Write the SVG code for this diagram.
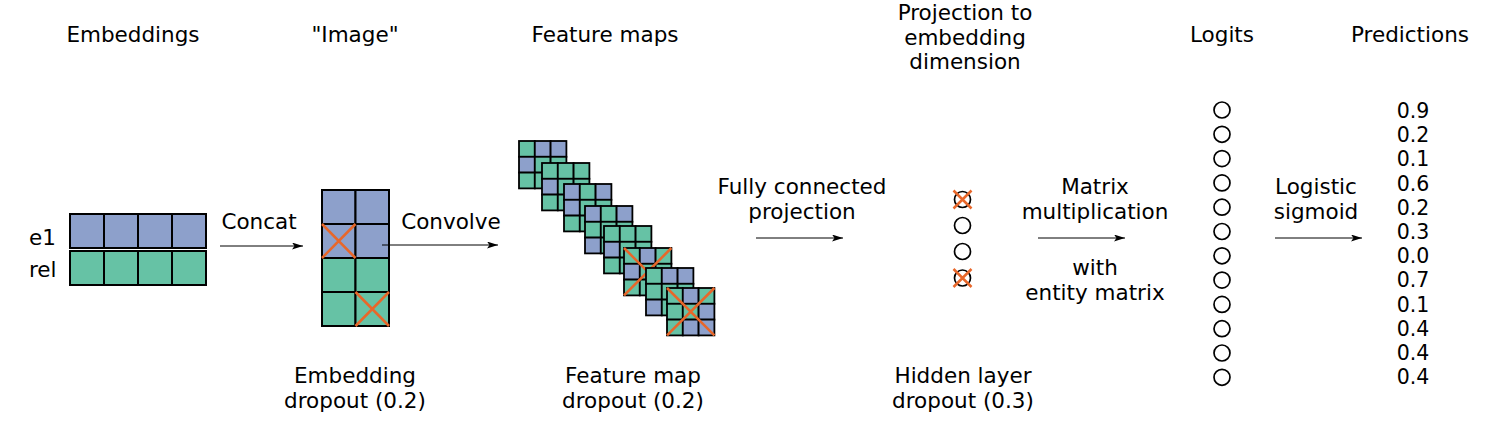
<svg xmlns="http://www.w3.org/2000/svg" width="1501" height="428" viewBox="0 0 1501 428">
<style>
text{font-family:"DejaVu Sans",sans-serif;font-size:21.5px;fill:#000}
.n{font-size:20.5px}
.m{text-anchor:middle}
.b{fill:#8da0cb;stroke:#000;stroke-width:2}
.g{fill:#66c2a5;stroke:#000;stroke-width:2}
.fb{fill:#8da0cb;stroke:#000;stroke-width:1.8}
.fg{fill:#66c2a5;stroke:#000;stroke-width:1.8}
.x{stroke:#e8672a;stroke-width:2.5;fill:none}
.c{fill:none;stroke:#000;stroke-width:1.7}
.arr{stroke:#000;stroke-width:1;fill:none;marker-end:url(#ah)}
</style>
<defs>
<marker id="ah" markerUnits="userSpaceOnUse" markerWidth="12" markerHeight="8" refX="11" refY="3.5" orient="auto">
<path d="M0,0 L11,3.5 L0,7 L2.5,3.5 z" fill="#000"/>
</marker>
</defs>
<rect width="1501" height="428" fill="#fff"/>

<g id="titles">
<text class="m" x="133" y="42">Embeddings</text>
<text class="m" x="355" y="42">"Image"</text>
<text class="m" x="605" y="42">Feature maps</text>
<text class="m" x="965" y="20">Projection to</text>
<text class="m" x="965" y="45">embedding</text>
<text class="m" x="965" y="69">dimension</text>
<text class="m" x="1222" y="42">Logits</text>
<text class="m" x="1410" y="42">Predictions</text>
</g>

<g id="embeddings">
<text x="29" y="245">e1</text>
<text x="29" y="277">rel</text>
<rect class="b" x="70" y="214" width="34" height="34"/>
<rect class="b" x="104" y="214" width="34" height="34"/>
<rect class="b" x="138" y="214" width="34" height="34"/>
<rect class="b" x="172" y="214" width="34" height="34"/>
<rect class="g" x="70" y="251" width="34" height="34"/>
<rect class="g" x="104" y="251" width="34" height="34"/>
<rect class="g" x="138" y="251" width="34" height="34"/>
<rect class="g" x="172" y="251" width="34" height="34"/>
</g>

<g id="image">
<rect class="b" x="322" y="190" width="33.5" height="34"/>
<rect class="b" x="355.5" y="190" width="33.5" height="34"/>
<rect class="b" x="322" y="224" width="33.5" height="34"/>
<rect class="b" x="355.5" y="224" width="33.5" height="34"/>
<rect class="g" x="322" y="258" width="33.5" height="34"/>
<rect class="g" x="355.5" y="258" width="33.5" height="34"/>
<rect class="g" x="322" y="292" width="33.5" height="34"/>
<rect class="g" x="355.5" y="292" width="33.5" height="34"/>
<path class="x" d="M322,224 L355.5,258 M355.5,224 L322,258"/>
<path class="x" d="M355.5,292 L389,326 M389,292 L355.5,326"/>
<text class="m" x="355" y="383">Embedding</text>
<text class="m" x="355" y="408">dropout (0.2)</text>
</g>

<g id="feature-maps">
<g transform="translate(519,141)">
<rect class="fg" x="0" y="0" width="15.8" height="15.8"/><rect class="fb" x="15.8" y="0" width="15.8" height="15.8"/><rect class="fb" x="31.6" y="0" width="15.8" height="15.8"/>
<rect class="fb" x="0" y="15.8" width="15.8" height="15.8"/><rect class="fg" x="15.8" y="15.8" width="15.8" height="15.8"/><rect class="fg" x="31.6" y="15.8" width="15.8" height="15.8"/>
<rect class="fg" x="0" y="31.6" width="15.8" height="15.8"/><rect class="fg" x="15.8" y="31.6" width="15.8" height="15.8"/><rect class="fg" x="31.6" y="31.6" width="15.8" height="15.8"/>
</g>
<g transform="translate(542,163)">
<rect class="fg" x="0" y="0" width="15.8" height="15.8"/><rect class="fg" x="15.8" y="0" width="15.8" height="15.8"/><rect class="fg" x="31.6" y="0" width="15.8" height="15.8"/>
<rect class="fb" x="0" y="15.8" width="15.8" height="15.8"/><rect class="fg" x="15.8" y="15.8" width="15.8" height="15.8"/><rect class="fg" x="31.6" y="15.8" width="15.8" height="15.8"/>
<rect class="fg" x="0" y="31.6" width="15.8" height="15.8"/><rect class="fg" x="15.8" y="31.6" width="15.8" height="15.8"/><rect class="fg" x="31.6" y="31.6" width="15.8" height="15.8"/>
</g>
<g transform="translate(564,184)">
<rect class="fb" x="0" y="0" width="15.8" height="15.8"/><rect class="fg" x="15.8" y="0" width="15.8" height="15.8"/><rect class="fb" x="31.6" y="0" width="15.8" height="15.8"/>
<rect class="fb" x="0" y="15.8" width="15.8" height="15.8"/><rect class="fg" x="15.8" y="15.8" width="15.8" height="15.8"/><rect class="fg" x="31.6" y="15.8" width="15.8" height="15.8"/>
<rect class="fg" x="0" y="31.6" width="15.8" height="15.8"/><rect class="fg" x="15.8" y="31.6" width="15.8" height="15.8"/><rect class="fg" x="31.6" y="31.6" width="15.8" height="15.8"/>
</g>
<g transform="translate(585,206)">
<rect class="fb" x="0" y="0" width="15.8" height="15.8"/><rect class="fg" x="15.8" y="0" width="15.8" height="15.8"/><rect class="fb" x="31.6" y="0" width="15.8" height="15.8"/>
<rect class="fg" x="0" y="15.8" width="15.8" height="15.8"/><rect class="fg" x="15.8" y="15.8" width="15.8" height="15.8"/><rect class="fg" x="31.6" y="15.8" width="15.8" height="15.8"/>
<rect class="fb" x="0" y="31.6" width="15.8" height="15.8"/><rect class="fg" x="15.8" y="31.6" width="15.8" height="15.8"/><rect class="fg" x="31.6" y="31.6" width="15.8" height="15.8"/>
</g>
<g transform="translate(604,226)">
<rect class="fg" x="0" y="0" width="15.8" height="15.8"/><rect class="fg" x="15.8" y="0" width="15.8" height="15.8"/><rect class="fg" x="31.6" y="0" width="15.8" height="15.8"/>
<rect class="fb" x="0" y="15.8" width="15.8" height="15.8"/><rect class="fg" x="15.8" y="15.8" width="15.8" height="15.8"/><rect class="fg" x="31.6" y="15.8" width="15.8" height="15.8"/>
<rect class="fg" x="0" y="31.6" width="15.8" height="15.8"/><rect class="fg" x="15.8" y="31.6" width="15.8" height="15.8"/><rect class="fg" x="31.6" y="31.6" width="15.8" height="15.8"/>
</g>
<g transform="translate(624,248)">
<rect class="fg" x="0" y="0" width="15.8" height="15.8"/><rect class="fb" x="15.8" y="0" width="15.8" height="15.8"/><rect class="fg" x="31.6" y="0" width="15.8" height="15.8"/>
<rect class="fb" x="0" y="15.8" width="15.8" height="15.8"/><rect class="fg" x="15.8" y="15.8" width="15.8" height="15.8"/><rect class="fg" x="31.6" y="15.8" width="15.8" height="15.8"/>
<rect class="fg" x="0" y="31.6" width="15.8" height="15.8"/><rect class="fg" x="15.8" y="31.6" width="15.8" height="15.8"/><rect class="fg" x="31.6" y="31.6" width="15.8" height="15.8"/>
<path class="x" d="M0,0 L47.4,47.4 M47.4,0 L0,47.4"/>
</g>
<g transform="translate(646,268)">
<rect class="fg" x="0" y="0" width="15.8" height="15.8"/><rect class="fb" x="15.8" y="0" width="15.8" height="15.8"/><rect class="fb" x="31.6" y="0" width="15.8" height="15.8"/>
<rect class="fg" x="0" y="15.8" width="15.8" height="15.8"/><rect class="fg" x="15.8" y="15.8" width="15.8" height="15.8"/><rect class="fg" x="31.6" y="15.8" width="15.8" height="15.8"/>
<rect class="fb" x="0" y="31.6" width="15.8" height="15.8"/><rect class="fg" x="15.8" y="31.6" width="15.8" height="15.8"/><rect class="fg" x="31.6" y="31.6" width="15.8" height="15.8"/>
</g>
<g transform="translate(667,288)">
<rect class="fg" x="0" y="0" width="15.8" height="15.8"/><rect class="fb" x="15.8" y="0" width="15.8" height="15.8"/><rect class="fg" x="31.6" y="0" width="15.8" height="15.8"/>
<rect class="fg" x="0" y="15.8" width="15.8" height="15.8"/><rect class="fg" x="15.8" y="15.8" width="15.8" height="15.8"/><rect class="fb" x="31.6" y="15.8" width="15.8" height="15.8"/>
<rect class="fg" x="0" y="31.6" width="15.8" height="15.8"/><rect class="fb" x="15.8" y="31.6" width="15.8" height="15.8"/><rect class="fb" x="31.6" y="31.6" width="15.8" height="15.8"/>
<path class="x" d="M0,0 L47.4,47.4 M47.4,0 L0,47.4"/>
</g>
<text class="m" x="633" y="383">Feature map</text>
<text class="m" x="633" y="408">dropout (0.2)</text>
</g>

<g id="hidden-layer">
<circle class="c" cx="962.5" cy="199.5" r="8"/>
<circle class="c" cx="962.5" cy="225.5" r="8"/>
<circle class="c" cx="962.5" cy="251.5" r="8"/>
<circle class="c" cx="962.5" cy="278" r="8"/>
<path class="x" d="M953.5,190.5 L971.5,208.5 M971.5,190.5 L953.5,208.5"/>
<path class="x" d="M953.5,269 L971.5,287 M971.5,269 L953.5,287"/>
<text class="m" x="963" y="383">Hidden layer</text>
<text class="m" x="963" y="408">dropout (0.3)</text>
</g>

<g id="logits">
<circle class="c" cx="1222" cy="110" r="8"/>
<circle class="c" cx="1222" cy="134.3" r="8"/>
<circle class="c" cx="1222" cy="158.6" r="8"/>
<circle class="c" cx="1222" cy="182.9" r="8"/>
<circle class="c" cx="1222" cy="207.2" r="8"/>
<circle class="c" cx="1222" cy="231.5" r="8"/>
<circle class="c" cx="1222" cy="255.8" r="8"/>
<circle class="c" cx="1222" cy="280.1" r="8"/>
<circle class="c" cx="1222" cy="304.4" r="8"/>
<circle class="c" cx="1222" cy="328.7" r="8"/>
<circle class="c" cx="1222" cy="353" r="8"/>
<circle class="c" cx="1222" cy="377.3" r="8"/>
</g>

<g id="predictions">
<text class="m n" x="1413" y="118">0.9</text>
<text class="m n" x="1413" y="142.2">0.2</text>
<text class="m n" x="1413" y="166.4">0.1</text>
<text class="m n" x="1413" y="190.6">0.6</text>
<text class="m n" x="1413" y="214.8">0.2</text>
<text class="m n" x="1413" y="239">0.3</text>
<text class="m n" x="1413" y="263.2">0.0</text>
<text class="m n" x="1413" y="287.4">0.7</text>
<text class="m n" x="1413" y="311.6">0.1</text>
<text class="m n" x="1413" y="335.8">0.4</text>
<text class="m n" x="1413" y="360">0.4</text>
<text class="m n" x="1413" y="384.2">0.4</text>
</g>

<g id="connectors">
<path class="arr" d="M220,246 L303,246"/>
<path class="arr" d="M382,245 L498,245"/>
<path class="arr" d="M756,238 L843,238"/>
<path class="arr" d="M1038,238 L1125,238"/>
<path class="arr" d="M1275,238 L1362,238"/>
<text class="m" x="259" y="229">Concat</text>
<text class="m" x="451" y="229">Convolve</text>
<text class="m" x="802" y="194">Fully connected</text>
<text class="m" x="802" y="219">projection</text>
<text class="m" x="1095" y="194">Matrix</text>
<text class="m" x="1095" y="219">multiplication</text>
<text class="m" x="1095" y="275">with</text>
<text class="m" x="1095" y="300">entity matrix</text>
<text class="m" x="1316" y="194">Logistic</text>
<text class="m" x="1316" y="219">sigmoid</text>
</g>
</svg>
